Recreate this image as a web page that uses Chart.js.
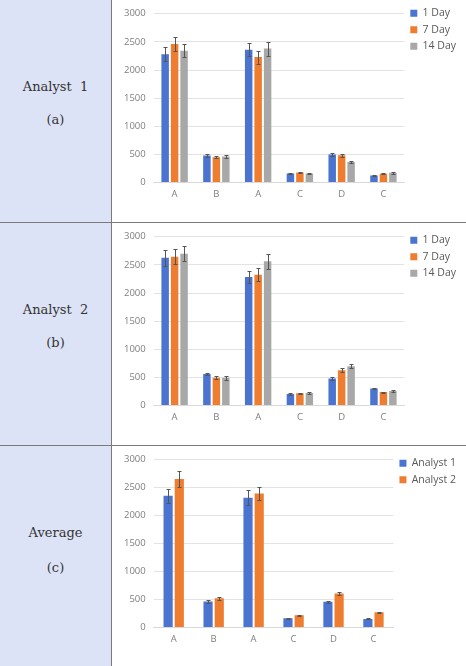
<!DOCTYPE html>
<html>
<head>
<meta charset="utf-8">
<script src="https://cdn.jsdelivr.net/npm/chart.js@4.4.1/dist/chart.umd.min.js"></script>
<style>
  html, body { margin: 0; padding: 0; background: #fff; }
  #page { position: relative; width: 466px; height: 666px; overflow: hidden; }
  .side { position: absolute; left: 0; width: 111px; background: #dde3f6; }
  .side .t { position: absolute; left: 0; width: 111px; text-align: center;
             font-family: 'DejaVu Serif', 'Liberation Serif', serif; font-size: 13px; color: #333; }
  .cell { position: absolute; left: 112px; width: 354px; }
  .hline { position: absolute; left: 0; width: 466px; height: 1px; background: #7a7a7a; }
  .vline { position: absolute; left: 111px; top: 0; width: 1px; height: 666px; background: #7a7a7a; }
</style>
</head>
<body>
<div id="page">
  <div class="side" style="top:0;height:222px">
    <div class="t" style="top:79px">Analyst&nbsp; 1</div>
    <div class="t" style="top:112px">(a)</div>
  </div>
  <div class="side" style="top:223px;height:222px">
    <div class="t" style="top:79px">Analyst&nbsp; 2</div>
    <div class="t" style="top:112px">(b)</div>
  </div>
  <div class="side" style="top:446px;height:220px">
    <div class="t" style="top:79px">Average</div>
    <div class="t" style="top:114px">(c)</div>
  </div>
  <div class="cell" style="top:0;height:222px"><canvas id="chartA1"></canvas></div>
  <div class="cell" style="top:223px;height:222px"><canvas id="chartA2"></canvas></div>
  <div class="cell" style="top:446px;height:220px"><canvas id="chartAvg"></canvas></div>
  <div class="hline" style="top:222px"></div>
  <div class="hline" style="top:445px"></div>
  <div class="vline"></div>
</div>
<script>
// ---- 데이터 ----
const CATEGORIES = ['A', 'B', 'A', 'C', 'D', 'C'];
const Y_TICKS = [0, 500, 1000, 1500, 2000, 2500, 3000];

// Analyst 1
const A1_DAY1 = [2280, 480, 2360, 160, 500, 125];
const A1_DAY1_ERR = [120, 25, 115, 10, 20, 8];
const A1_DAY7 = [2460, 450, 2230, 180, 485, 155];
const A1_DAY7_ERR = [130, 20, 115, 12, 25, 10];
const A1_DAY14 = [2340, 465, 2380, 160, 365, 175];
const A1_DAY14_ERR = [115, 30, 125, 10, 25, 15];

// Analyst 2
const A2_DAY1 = [2625, 560, 2285, 205, 480, 305];
const A2_DAY1_ERR = [140, 25, 110, 10, 25, 12];
const A2_DAY7 = [2645, 495, 2325, 220, 630, 240];
const A2_DAY7_ERR = [130, 25, 120, 12, 30, 10];
const A2_DAY14 = [2695, 495, 2565, 225, 700, 260];
const A2_DAY14_ERR = [135, 35, 130, 12, 35, 15];

// Average
const AVG_A1 = [2355, 465, 2320, 165, 460, 155];
const AVG_A1_ERR = [120, 25, 130, 12, 15, 10];
const AVG_A2 = [2655, 525, 2395, 220, 610, 275];
const AVG_A2_ERR = [140, 30, 115, 10, 35, 8];

const BLUE = '#4a74cf';
const ORANGE = '#ef7d2f';
const GREY = '#a8a8a8';

// 에러바: 각 막대의 x 위치와 y 스케일로 그림
const errorBars = {
    id: 'errorBars',
    afterDatasetsDraw(chart) {
        const ctx = chart.ctx;
        const y = chart.scales.y;
        ctx.save();
        ctx.strokeStyle = '#555';
        ctx.lineWidth = 1;
        chart.data.datasets.forEach((ds, i) => {
            if (!ds.errors) return;
            const meta = chart.getDatasetMeta(i);
            meta.data.forEach((bar, j) => {
                const v = ds.data[j], e = ds.errors[j];
                const top = Math.round(y.getPixelForValue(v + e)) + 0.5;
                const bot = Math.round(y.getPixelForValue(v - e)) + 0.5;
                const x = Math.round(bar.x) + 0.5;
                ctx.beginPath();
                ctx.moveTo(x, top); ctx.lineTo(x, bot);
                ctx.moveTo(x - 2, top); ctx.lineTo(x + 2, top);
                ctx.moveTo(x - 2, bot); ctx.lineTo(x + 2, bot);
                ctx.stroke();
            });
        });
        ctx.restore();
    }
};

function barSet(label, data, errors, color) {
    return { label, data, errors, backgroundColor: color, borderWidth: 0 };
}

function makeChart(id, datasets, opts) {
    const canvas = document.getElementById(id);
    if (!canvas) return;
    new Chart(canvas, {
        type: 'bar',
        data: { labels: CATEGORIES, datasets },
        plugins: [errorBars],
        options: {
            responsive: true, maintainAspectRatio: false, animation: false,
            datasets: { bar: { categoryPercentage: opts.cat, barPercentage: opts.bar } },
            layout: { padding: opts.padding },
            plugins: {
                tooltip: { enabled: false },
                legend: {
                    position: 'right', align: 'start',
                    labels: {
                        boxWidth: 7, boxHeight: 7, padding: 6,
                        color: '#595959', font: { size: 10.5, family: "'Open Sans', sans-serif" }
                    }
                }
            },
            scales: {
                y: {
                    min: 0, max: 3000,
                    afterBuildTicks: s => { s.ticks = Y_TICKS.map(v => ({ value: v })); },
                    ticks: {
                        color: '#7f7f7f', padding: 8, callback: v => String(v),
                        font: { size: 9.5, family: "'Open Sans', sans-serif" }
                    },
                    grid: { color: '#e3e3e3', drawTicks: false },
                    border: { display: false }
                },
                x: {
                    ticks: { color: '#7f7f7f', padding: 6, font: { size: 9.5, family: "'Open Sans', sans-serif" } },
                    grid: { display: false, drawTicks: false },
                    border: { color: '#d9d9d9' }
                }
            }
        }
    });
}

makeChart('chartA1', [
    barSet('1 Day', A1_DAY1, A1_DAY1_ERR, BLUE),
    barSet('7 Day', A1_DAY7, A1_DAY7_ERR, ORANGE),
    barSet('14 Day', A1_DAY14, A1_DAY14_ERR, GREY)
], { cat: 0.68, bar: 0.79, padding: { left: 4, right: 0, top: 2, bottom: 16 } });

makeChart('chartA2', [
    barSet('1 Day', A2_DAY1, A2_DAY1_ERR, BLUE),
    barSet('7 Day', A2_DAY7, A2_DAY7_ERR, ORANGE),
    barSet('14 Day', A2_DAY14, A2_DAY14_ERR, GREY)
], { cat: 0.68, bar: 0.79, padding: { left: 4, right: 0, top: 6, bottom: 16 } });

makeChart('chartAvg', [
    barSet('Analyst 1', AVG_A1, AVG_A1_ERR, BLUE),
    barSet('Analyst 2', AVG_A2, AVG_A2_ERR, ORANGE)
], { cat: 0.56, bar: 0.82, padding: { left: 4, right: 0, top: 6, bottom: 15 } });
</script>
</body>
</html>
